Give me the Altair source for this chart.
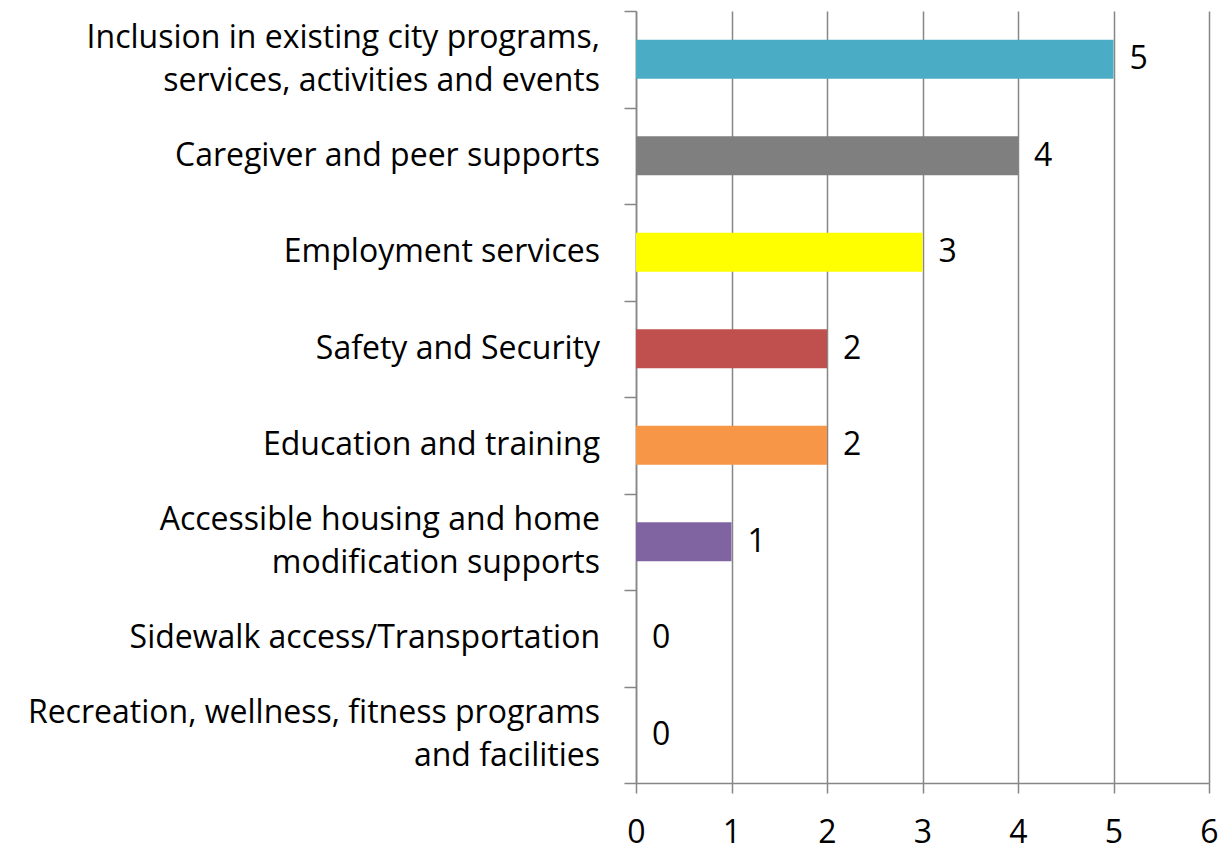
import altair as alt
import pandas as pd

categories = [
    "Inclusion in existing city programs,\nservices, activities and events",
    "Caregiver and peer supports",
    "Employment services ",
    "Safety and Security",
    "Education and training",
    "Accessible housing and home\nmodification supports",
    "Sidewalk access/Transportation",
    "Recreation, wellness, fitness programs\nand facilities",
]
values = [5, 4, 3, 2, 2, 1, 0, 0]
colors = ["#4BACC6", "#7F7F7F", "#FFFF00", "#C0504D", "#F79646", "#8064A2", "#9BBB59", "#4F81BD"]
x_ticks = [0, 1, 2, 3, 4, 5, 6]

df = pd.DataFrame({"category": categories, "value": values, "color": colors})

FONT = "Open Sans"
GRAY = "#868686"

y_enc = alt.Y(
    "category:N",
    sort=categories,
    scale=alt.Scale(paddingInner=0, paddingOuter=0),
    axis=alt.Axis(
        title=None,
        labels=False,
        tickSize=12,
        tickWidth=1.5,
        tickBand="extent",
        tickColor=GRAY,
        domainColor=GRAY,
        domainWidth=1.5,
        grid=False,
    ),
)

x_enc = alt.X(
    "value:Q",
    scale=alt.Scale(domain=[0, 6]),
    axis=alt.Axis(
        title=None,
        values=x_ticks,
        format="d",
        grid=True,
        gridColor=GRAY,
        gridWidth=1.5,
        tickSize=10,
        tickWidth=1.5,
        tickColor=GRAY,
        domainColor=GRAY,
        domainWidth=1.5,
        labelFontSize=32,
        labelPadding=24,
        labelColor="#000000",
        labelFlush=False,
    ),
)

bars = alt.Chart(df).mark_bar(size=39).encode(
    x=x_enc,
    y=y_enc,
    color=alt.Color("color:N", scale=None),
)

values_text = alt.Chart(df).mark_text(
    align="left", baseline="middle", dx=16, fontSize=32, font=FONT, color="#000000"
).encode(
    x=alt.X("value:Q"),
    y=alt.Y("category:N", sort=categories),
    text=alt.Text("value:Q"),
)

category_text = alt.Chart(df).mark_text(
    align="right",
    baseline="middle",
    lineBreak="\n",
    lineHeight=43,
    fontSize=32,
    font=FONT,
    color="#000000",
    dy=alt.expr("indexof(datum.category, '\\n') >= 0 ? -21.5 : 0"),
).encode(
    x=alt.value(-36),
    y=alt.Y("category:N", sort=categories),
    text=alt.Text("category:N"),
)

chart = (
    alt.layer(bars, values_text, category_text)
    .properties(
        width=573,
        height=772,
        autosize=alt.AutoSizeParams(type="none"),
        padding={"left": 628, "top": 3, "right": 10, "bottom": 70},
    )
    .configure(font=FONT)
    .configure_view(strokeWidth=0)
)

chart.save("out.html", embed_options={"renderer": "svg", "actions": False})
